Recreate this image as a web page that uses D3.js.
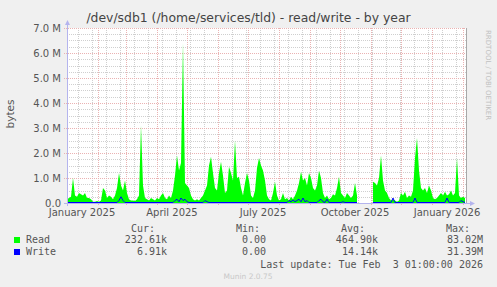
<!DOCTYPE html>
<html>
<head>
<meta charset="utf-8">
<script src="https://cdn.jsdelivr.net/npm/d3@7"></script>
<style>
body { margin: 0; background: #f0f0f0; }
svg { display: block; font-family: "DejaVu Sans", sans-serif; }
.mono { font-family: "DejaVu Sans Mono", monospace; font-size: 10px; fill: #555; white-space: pre; }
</style>
</head>
<body>
<svg id="chart" width="497" height="287"></svg>
<script>
// values in millions of bytes, one sample every 2 days from 1 Jan 2025
const startDate = new Date(2025, 0, 1);
const stepDays = 2;
const readValues = [
    0.15, 0.2, 0.25, 1.0, 0.3, 0.25, 0.4, 0.35, 0.3, 0.4,
    0.2, 0.2, 0.15, 0.05, 0.05, 0.08, 0.05, 0.1, 0.6, 0.5,
    0.2, 0.3, 0.25, 0.15, 0.3, 0.6, 1.2, 0.7, 0.5, 0.9,
    0.4, 0.15, 0.1, 0.1, 0.08, 0.15, 0.3, 3.1, 0.7, 0.2,
    0.15, 0.1, 0.2, 0.15, 0.1, 0.2, 0.15, 0.3, 0.4, 0.2,
    0.15, 0.3, 0.2, 0.5, 1.1, 1.9, 1.3, 1.6, 6.4, 0.8,
    0.7, 0.6, 0.3, 0.15, 0.1, 0.15, 0.1, 0.2, 0.3, 0.5,
    0.7, 1.5, 1.85, 1.2, 0.6, 0.5, 1.2, 1.65, 1.1, 0.4,
    0.5, 1.45, 1.2, 0.9, 2.5, 1.0, 1.05, 0.6, 0.3, 0.8,
    1.2, 0.9, 0.3, 0.2, 0.5, 1.4, 1.8, 1.5, 1.3, 0.9,
    0.3, 0.15, 0.1, 0.4, 0.85, 0.3, 0.1, 0.15, 0.4, 0.15,
    0.2, 0.1, 0.25, 0.15, 0.3, 0.5, 0.8, 1.25, 0.9, 1.0,
    0.7, 1.2, 1.0, 0.6, 0.5, 0.7, 1.3, 1.0, 0.4, 0.2,
    0.3, 0.15, 0.2, 0.35, 0.3, 0.6, 1.05, 0.4, 0.3, 0.2,
    0.4, 0.3, 0.2, 0.3, 0.8, 0.3, null, null, null, null,
    null, null, null, 0.85, 0.8, 0.7, 1.0, 1.9, 0.9, 0.5,
    0.4, 0.2, 0.1, 0.15, 0.1, 0.05, 0.1, 0.4, 0.3, 0.45,
    0.2, 0.3, 0.25, 0.5, 1.8, 2.6, 1.3, 0.6, 0.5, 0.6,
    0.4, 0.7, 0.5, 0.2, 0.15, 0.2, 0.3, 0.4, 0.3, 0.45,
    0.3, 0.35, 0.5, 0.3, 0.4, 1.8, 0.3, 0.2, 0.25, 0.2
];
const writeValues = [
    0.02, 0.02, 0.02, 0.02, 0.02, 0.02, 0.02, 0.02, 0.02, 0.02,
    0.02, 0.02, 0.02, 0.02, 0.02, 0.02, 0.02, 0.02, 0.02, 0.02,
    0.02, 0.02, 0.02, 0.02, 0.02, 0.02, 0.1, 0.25, 0.1, 0.02,
    0.02, 0.02, 0.02, 0.02, 0.02, 0.02, 0.02, 0.02, 0.02, 0.02,
    0.02, 0.02, 0.02, 0.02, 0.02, 0.02, 0.02, 0.02, 0.02, 0.02,
    0.02, 0.02, 0.02, 0.02, 0.1, 0.15, 0.05, 0.2, 0.1, 0.15,
    0.05, 0.02, 0.02, 0.02, 0.02, 0.02, 0.02, 0.02, 0.02, 0.1,
    0.05, 0.02, 0.02, 0.02, 0.02, 0.02, 0.02, 0.02, 0.02, 0.02,
    0.02, 0.02, 0.02, 0.02, 0.02, 0.02, 0.02, 0.02, 0.02, 0.02,
    0.02, 0.02, 0.02, 0.02, 0.02, 0.02, 0.02, 0.02, 0.02, 0.02,
    0.02, 0.02, 0.02, 0.02, 0.02, 0.02, 0.02, 0.02, 0.02, 0.02,
    0.02, 0.1, 0.05, 0.12, 0.05, 0.1, 0.15, 0.05, 0.2, 0.05,
    0.1, 0.02, 0.02, 0.02, 0.02, 0.02, 0.1, 0.15, 0.05, 0.02,
    0.15, 0.02, 0.02, 0.02, 0.02, 0.02, 0.02, 0.02, 0.05, 0.02,
    0.02, 0.02, 0.02, 0.02, 0.02, 0.02, null, null, null, null,
    null, null, null, 0.02, 0.02, 0.02, 0.02, 0.02, 0.02, 0.02,
    0.02, 0.02, 0.02, 0.2, 0.02, 0.02, 0.02, 0.02, 0.02, 0.02,
    0.02, 0.02, 0.02, 0.02, 0.2, 0.02, 0.02, 0.02, 0.02, 0.02,
    0.02, 0.02, 0.02, 0.02, 0.02, 0.02, 0.02, 0.02, 0.02, 0.02,
    0.2, 0.02, 0.02, 0.02, 0.02, 0.02, 0.02, 0.1, 0.05, 0.02
];
const yTicks = [0, 1, 2, 3, 4, 5, 6, 7];
const yTickLabels = ["0.0", "1.0 M", "2.0 M", "3.0 M", "4.0 M", "5.0 M", "6.0 M", "7.0 M"];
const xLabels = ["January 2025", "April 2025", "July 2025", "October 2025", "January 2026"];
const xLabelDates = [new Date(2025, 0, 16), new Date(2025, 3, 16), new Date(2025, 6, 16), new Date(2025, 9, 16), new Date(2026, 0, 16)];

const seriesNames = ["Read", "Write"];
const seriesColors = ["#00ff00", "#0000ff"];
const curValues = ["232.61k", "6.91k"];
const minValues = ["0.00", "0.00"];
const avgValues = ["464.90k", "14.14k"];
const maxValues = ["83.02M", "31.39M"];

const svg = d3.select("#chart");
const plotLeft = 67, plotRight = 467, plotTop = 28, plotBottom = 203;

const x = d3.scaleTime()
    .domain([new Date(2025, 0, 1), new Date(2026, 1, 5)])
    .range([plotLeft, plotRight]);
const y = d3.scaleLinear().domain([0, 7]).range([plotBottom, plotTop]);

svg.append("rect")
    .attr("x", plotLeft).attr("y", plotTop)
    .attr("width", plotRight - plotLeft).attr("height", plotBottom - plotTop)
    .attr("fill", "#fff");

// grid
const grid = svg.append("g").attr("shape-rendering", "crispEdges").attr("stroke-dasharray", "1,1");
const minorY = d3.range(0, 7.01, 0.25).filter(v => v % 1 !== 0);
grid.selectAll(".hmin").data(minorY).enter().append("line")
    .attr("x1", plotLeft).attr("x2", plotRight)
    .attr("y1", d => Math.round(y(d)) + 0.5).attr("y2", d => Math.round(y(d)) + 0.5)
    .attr("stroke", "#cfcfcf");
const minorX = d3.timeDay.range(new Date(2025, 0, 12), new Date(2026, 1, 5), 14);
grid.selectAll(".vmin").data(minorX).enter().append("line")
    .attr("x1", d => Math.round(x(d)) + 0.5).attr("x2", d => Math.round(x(d)) + 0.5)
    .attr("y1", plotTop).attr("y2", plotBottom)
    .attr("stroke", "#cfcfcf");
grid.selectAll(".hmaj").data(yTicks.slice(1)).enter().append("line")
    .attr("x1", plotLeft - 3).attr("x2", plotRight)
    .attr("y1", d => Math.round(y(d)) + 0.5).attr("y2", d => Math.round(y(d)) + 0.5)
    .attr("stroke", "#eab2b2");
const majorX = d3.timeMonth.range(new Date(2025, 1, 1), new Date(2026, 1, 5));
grid.selectAll(".vmaj").data(majorX).enter().append("line")
    .attr("x1", d => Math.round(x(d)) + 0.5).attr("x2", d => Math.round(x(d)) + 0.5)
    .attr("y1", plotTop).attr("y2", plotBottom + 3)
    .attr("stroke", "#eab2b2");

// data
const readData = readValues.map((v, i) => ({ date: d3.timeDay.offset(startDate, i * stepDays), v }));
const writeData = writeValues.map((v, i) => ({ date: d3.timeDay.offset(startDate, i * stepDays), v }));

svg.append("path")
    .datum(readData)
    .attr("fill", seriesColors[0])
    .attr("d", d3.area()
        .defined(d => d.v !== null)
        .x(d => x(d.date))
        .y0(y(0))
        .y1(d => y(d.v)));

svg.append("path")
    .datum(writeData)
    .attr("fill", "none")
    .attr("stroke", seriesColors[1])
    .attr("stroke-width", 1)
    .attr("d", d3.line()
        .defined(d => d.v !== null)
        .x(d => x(d.date))
        .y(d => y(d.v)));

// axes
const axisColor = "#b4b4ee";
svg.append("line").attr("x1", plotLeft + 0.5).attr("x2", plotLeft + 0.5).attr("y1", plotBottom + 3).attr("y2", plotTop - 4)
    .attr("stroke", axisColor).attr("shape-rendering", "crispEdges");
svg.append("path").attr("d", `M${plotLeft - 2},${plotTop - 3}L${plotLeft + 3},${plotTop - 3}L${plotLeft + 0.5},${plotTop - 8}Z`).attr("fill", axisColor);
svg.append("line").attr("x1", plotLeft - 3).attr("x2", plotRight + 4).attr("y1", plotBottom + 0.5).attr("y2", plotBottom + 0.5)
    .attr("stroke", axisColor).attr("shape-rendering", "crispEdges");
svg.append("path").attr("d", `M${plotRight + 3},${plotBottom - 2}L${plotRight + 3},${plotBottom + 3}L${plotRight + 8},${plotBottom + 0.5}Z`).attr("fill", axisColor);
svg.append("line").attr("x1", plotRight - 0.5).attr("x2", plotRight - 0.5).attr("y1", plotTop).attr("y2", plotBottom)
    .attr("stroke", "#a8a8a8").attr("shape-rendering", "crispEdges");

svg.selectAll(".ylab").data(yTicks).enter().append("text")
    .attr("x", 61).attr("y", d => y(d) + 3.5)
    .attr("text-anchor", "end").attr("font-size", 10).attr("fill", "#555")
    .text((d, i) => yTickLabels[i]);

svg.selectAll(".xlab").data(xLabelDates).enter().append("text")
    .attr("x", d => x(d)).attr("y", 216)
    .attr("text-anchor", "middle").attr("font-size", 10).attr("fill", "#555")
    .text((d, i) => xLabels[i]);

svg.append("text")
    .attr("transform", "translate(14,114) rotate(-90)")
    .attr("text-anchor", "middle").attr("font-size", 10.5).attr("fill", "#555")
    .text("bytes");

svg.append("text")
    .attr("x", 248.5).attr("y", 22)
    .attr("text-anchor", "middle").attr("font-size", 12.4).attr("fill", "#444")
    .text("/dev/sdb1 (/home/services/tld) - read/write - by year");

svg.append("text")
    .attr("transform", "translate(486,30) rotate(90)")
    .attr("font-size", 7).attr("fill", "#c0c0c0")
    .text("RRDTOOL / TOBI OETIKER");

// legend
const headers = [["Cur:", 155], ["Min:", 260], ["Avg:", 365], ["Max:", 470]];
headers.forEach(h => {
    svg.append("text").attr("class", "mono").attr("x", h[1]).attr("y", 232)
        .attr("text-anchor", "end").text(h[0]);
});
seriesNames.forEach((name, i) => {
    const ty = 243 + i * 12;
    svg.append("rect").attr("x", 14).attr("y", ty - 6).attr("width", 6).attr("height", 6)
        .attr("fill", seriesColors[i]);
    svg.append("text").attr("class", "mono").attr("x", 26).attr("y", ty).text(name);
    [[curValues[i], 167], [minValues[i], 266], [avgValues[i], 378], [maxValues[i], 483]].forEach(c => {
        svg.append("text").attr("class", "mono").attr("x", c[1]).attr("y", ty)
            .attr("text-anchor", "end").text(c[0]);
    });
});
svg.append("text").attr("class", "mono").attr("x", 483).attr("y", 267.5)
    .attr("text-anchor", "end").text("Last update: Tue Feb  3 01:00:00 2026");

svg.append("text")
    .attr("x", 248).attr("y", 279)
    .attr("text-anchor", "middle").attr("font-size", 7.5).attr("fill", "#c8c8c8")
    .text("Munin 2.0.75");
</script>
</body>
</html>
